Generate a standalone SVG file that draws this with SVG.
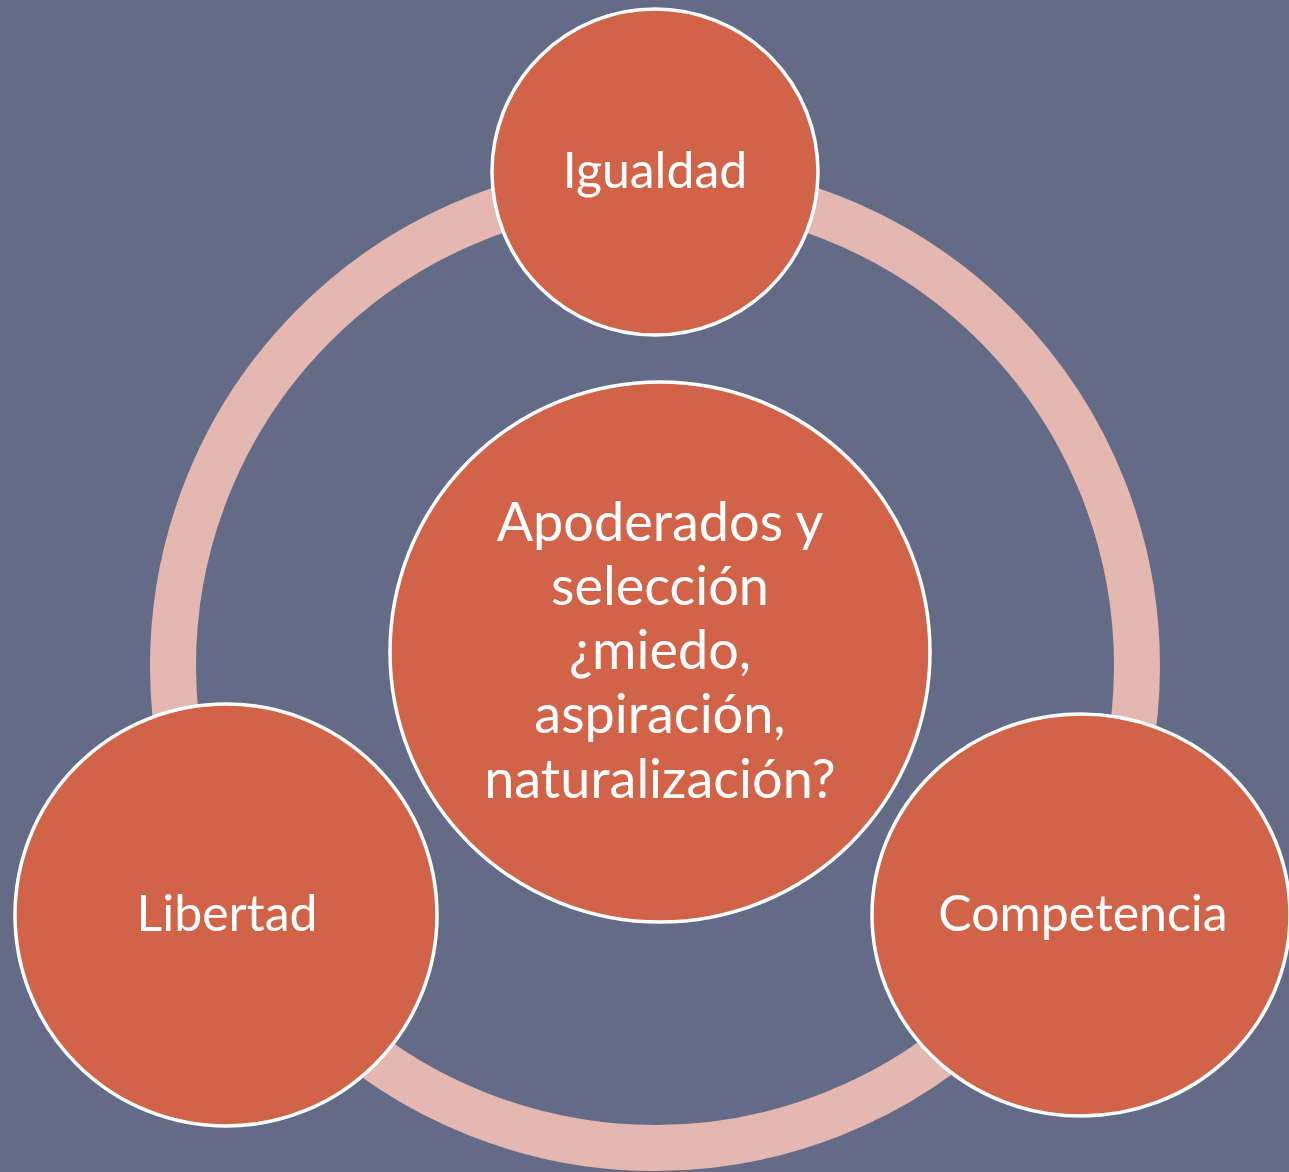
<svg xmlns="http://www.w3.org/2000/svg" width="1289" height="1172" viewBox="0 0 1289 1172">
<style>
.node{fill:#D16349;stroke:#FFFFFF;stroke-width:3.5}
.lbl{font-family:Lato,"Liberation Sans",sans-serif;fill:#FFFFFF;text-anchor:middle}
.side{font-size:50px}
.main{font-size:54px}
</style>
<rect x="0" y="0" width="1289" height="1172" fill="#636B87"/>
<g id="connectors">
<circle cx="655" cy="666" r="482" fill="none" stroke="#E4B7B0" stroke-width="46"/>
</g>
<g id="node-center">
<circle class="node" cx="660" cy="652" r="270"/>
<text class="lbl main" x="660"><tspan x="660" y="541">Apoderados y</tspan><tspan x="660" y="605">selección</tspan><tspan x="660" y="669">¿miedo,</tspan><tspan x="660" y="733">aspiración,</tspan><tspan x="660" y="798">naturalización?</tspan></text>
</g>
<g id="node-igualdad">
<circle class="node" cx="655" cy="172" r="163"/>
<text class="lbl side" x="655" y="188">Igualdad</text>
</g>
<g id="node-libertad">
<circle class="node" cx="226" cy="915" r="211"/>
<text class="lbl side" x="227" y="931">Libertad</text>
</g>
<g id="node-competencia">
<ellipse class="node" cx="1081" cy="915" rx="209" ry="201"/>
<text class="lbl side" x="1083" y="931">Competencia</text>
</g>
</svg>
